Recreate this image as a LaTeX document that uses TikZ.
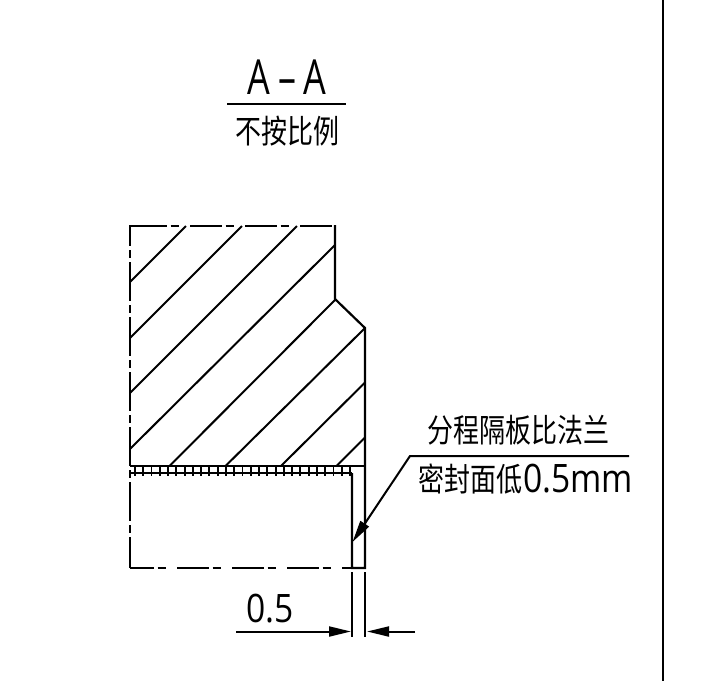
\documentclass[tikz,border=0pt]{standalone}
\usepackage{fontspec}
\usetikzlibrary{arrows.meta}
\setmainfont{Liberation Sans}
\newfontfamily\cjk{Noto Sans CJK SC}
\newfontfamily\latn{Open Sans}
\tikzset{
  outline/.style={line width=2.2pt,line cap=butt,line join=miter},
  chainh/.style={outline,dash pattern=on 32pt off 3.5pt on 8pt off 11.5pt},
  chainv/.style={outline,dash pattern=on 39pt off 4pt on 8pt off 4pt,dash phase=19pt},
  hatch/.style={line width=2pt},
  tick/.style={line width=1.9pt},
  thinline/.style={line width=2pt},
  leadertip/.style={-{Triangle[length=22pt,width=10pt]}},
  labeltext/.style={inner sep=0pt,anchor=center,transform shape},
}
\begin{document}
\begin{tikzpicture}[x=1pt,y=-1pt]
\useasboundingbox (0,0) rectangle (706,681);
\fill[white] (0,0) rectangle (706,681);
% frame
\draw[outline] (663,0) -- (663,681);
% title
\node[labeltext,font=\latn\fontsize{46}{46}\selectfont,xscale=0.78,yscale=1.05] (t1) at (287,77) {A\kern10pt–\kern10ptA};
\draw[thinline] (227,103.5) -- (346,103.5);
\node[labeltext,font=\cjk\fontsize{26}{26}\selectfont,yscale=1.25] (t2) at (287,131) {不按比例};
% outline
\draw[outline] (129,226) -- (135,226);
\draw[chainh] (135,226) -- (335,226);
\draw[chainv] (130,226) -- (130,568);
\draw[chainh,dash phase=8pt] (130,568) -- (352,568);
\draw[outline] (130,473) -- (352,473);
\draw[outline] (335,225) -- (335,299) -- (365,328) -- (365,568) -- (352,568) -- (352,473);
\draw[outline] (130,466) -- (365,466);
% hatching
\foreach \a/\b/\c/\d in {130/282/186/226,130/338/242/226,130/393/297/226,130/449/335/245,
  169.5/466/335/300,225.5/466/365/328,281/466/365/382.5,336.5/466/365/437.5}{
  \draw[hatch] (\a,\b) -- (\c,\d);
}
% ticks
\foreach \i in {0,...,26}{
  \draw[tick] ({135+8.27*\i},466) -- ({135+8.27*\i},476);
}
% leader
\coordinate (tip) at (352.5,542);
\coordinate (knee) at (410,456);
\coordinate (lend) at (629,456);
\draw[thinline,leadertip] (lend) -- (knee) -- (tip);
\node[labeltext,font=\cjk\fontsize{26}{26}\selectfont,yscale=1.25] (n1) at (518,430) {分程隔板比法兰};
\node[labeltext,font=\cjk\fontsize{26}{26}\selectfont,anchor=west,yscale=1.25] (n2) at (418,479) {密封面低};
\node[labeltext,font=\latn\fontsize{35}{35}\selectfont,anchor=west,xscale=0.96,yscale=1.12] (n3) at (523,479) {0.5mm};
% dimension
\coordinate (e1a) at (352,572);\coordinate (e1b) at (352,637);
\coordinate (e2a) at (365,572);\coordinate (e2b) at (365,637);
\draw[thinline] (e1a) -- (e1b);
\draw[thinline] (e2a) -- (e2b);
\coordinate (d1) at (236,631.5);\coordinate (d2) at (351,631.5);
\coordinate (d3) at (415,631.5);\coordinate (d4) at (367,631.5);
\draw[thinline,leadertip] (d1) -- (d2);
\draw[thinline,leadertip] (d3) -- (d4);
\node[labeltext,font=\latn\fontsize{35}{35}\selectfont,xscale=0.96,yscale=1.12] (n4) at (270,609) {0.5};
\end{tikzpicture}
\end{document}
